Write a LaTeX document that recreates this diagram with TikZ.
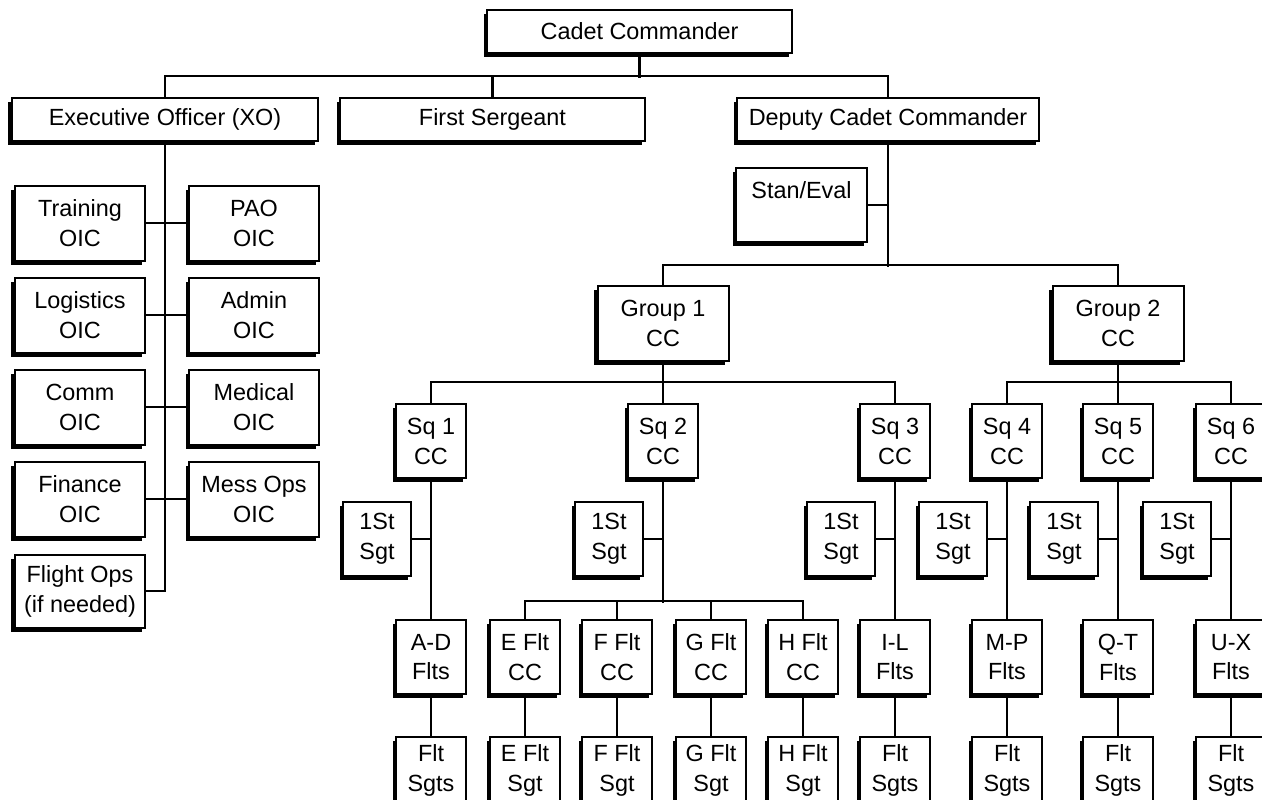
\documentclass[tikz,border=0pt]{standalone}
\usepackage{fontspec}
\setmainfont{Liberation Sans}
\usetikzlibrary{positioning,shadows}

\begin{document}
\begin{tikzpicture}[
    x=1bp, y=-1bp,
    font=\fontsize{23.5}{30}\selectfont,
    box/.style={rectangle, draw, fill=white, line width=2bp, inner sep=0pt, align=center,
        drop shadow={shadow xshift=-3.5bp, shadow yshift=-4bp, fill=black, opacity=1}},
    topbox/.style={box, minimum width=305bp, minimum height=43bp},
    oicbox/.style={box, minimum width=130bp, minimum height=75bp},
    unitbox/.style={box, minimum width=70bp, minimum height=74bp},
    sgtbox/.style={box, minimum width=68bp, minimum height=74bp},
    link/.style={line width=2.2bp}
]
    \useasboundingbox (0,0) rectangle (1262,800);

    % top of the chain
    \node[topbox] (cadet) at (639.5,31.5) {Cadet Commander};
    \node[topbox, minimum width=306bp] (xo) at (165,119.5) {Executive Officer (XO)};
    \node[topbox] (first) at (492.5,119.5) {First Sergeant};
    \node[topbox, minimum width=302bp] (deputy) at (888,119.5) {Deputy Cadet Commander};

    % XO staff
    \node[oicbox] (train) at (80,223) {Training\\OIC};
    \node[oicbox] (pao) at (254,223) {PAO\\OIC};
    \node[oicbox] (logi) at (80,315) {Logistics\\OIC};
    \node[oicbox] (admin) at (254,315) {Admin\\OIC};
    \node[oicbox] (comm) at (80,407) {Comm\\OIC};
    \node[oicbox] (medic) at (254,407) {Medical\\OIC};
    \node[oicbox] (finance) at (80,499) {Finance\\OIC};
    \node[oicbox] (mess) at (254,499) {Mess Ops\\OIC};
    \node[oicbox, minimum height=73bp] (flight) at (80,591) {Flight Ops\\(if needed)};

    % deputy side
    \node[box, minimum width=131bp, minimum height=74bp] (stan) at (801.5,205) {Stan/Eval\\\mbox{}};
    \node[box, minimum width=131bp, minimum height=75bp] (grpone) at (663,323.5) {Group 1\\CC};
    \node[box, minimum width=131bp, minimum height=75bp] (grptwo) at (1118,323.5) {Group 2\\CC};

    % squadrons
    \node[unitbox] (sqone) at (431,441) {Sq 1\\CC};
    \node[unitbox] (sqtwo) at (663,441) {Sq 2\\CC};
    \node[unitbox] (sqthree) at (895,441) {Sq 3\\CC};
    \node[unitbox] (sqfour) at (1007,441) {Sq 4\\CC};
    \node[unitbox] (sqfive) at (1118,441) {Sq 5\\CC};
    \node[unitbox] (sqsix) at (1231,441) {Sq 6\\CC};

    \node[sgtbox] (ssone) at (377,539) {1St\\Sgt};
    \node[sgtbox] (sstwo) at (609,539) {1St\\Sgt};
    \node[sgtbox] (ssthree) at (841,539) {1St\\Sgt};
    \node[sgtbox] (ssfour) at (953,539) {1St\\Sgt};
    \node[sgtbox] (ssfive) at (1064,539) {1St\\Sgt};
    \node[sgtbox] (sssix) at (1177,539) {1St\\Sgt};

    % flights
    \node[unitbox] (fltad) at (431,657) {A-D\\Flts};
    \node[unitbox] (eflt) at (525,657) {E Flt\\CC};
    \node[unitbox] (fflt) at (617,657) {F Flt\\CC};
    \node[unitbox] (gflt) at (711,657) {G Flt\\CC};
    \node[unitbox] (hflt) at (803,657) {H Flt\\CC};
    \node[unitbox] (fltil) at (895,657) {I-L\\Flts};
    \node[unitbox] (fltmp) at (1007,657) {M-P\\Flts};
    \node[unitbox] (fltqt) at (1118,657) {Q-T\\Flts};
    \node[unitbox] (fltux) at (1231,657) {U-X\\Flts};

    \node[unitbox, minimum height=66bp] (sgtsad) at (431,770) {Flt\\Sgts};
    \node[unitbox, minimum height=66bp] (sgte) at (525,770) {E Flt\\Sgt};
    \node[unitbox, minimum height=66bp] (sgtf) at (617,770) {F Flt\\Sgt};
    \node[unitbox, minimum height=66bp] (sgtg) at (711,770) {G Flt\\Sgt};
    \node[unitbox, minimum height=66bp] (sgth) at (803,770) {H Flt\\Sgt};
    \node[unitbox, minimum height=66bp] (sgtsil) at (895,770) {Flt\\Sgts};
    \node[unitbox, minimum height=66bp] (sgtsmp) at (1007,770) {Flt\\Sgts};
    \node[unitbox, minimum height=66bp] (sgtsqt) at (1118,770) {Flt\\Sgts};
    \node[unitbox, minimum height=66bp] (sgtsux) at (1231,770) {Flt\\Sgts};

    % connectors
    \draw[link] (cadet.south) -- ++(0,24.5);
    \draw[link] (xo.north) -- ++(0,-21) -| (deputy.north);
    \draw[link] (first.north) -- ++(0,-21);

    \draw[link] (flight.east) -| (xo.south);
    \draw[link] (train.east) -- (pao.west);
    \draw[link] (logi.east) -- (admin.west);
    \draw[link] (comm.east) -- (medic.west);
    \draw[link] (finance.east) -- (mess.west);

    \draw[link] (deputy.south) -- ++(0,125);
    \draw[link] (stan.east) -- (stan.east -| deputy.south);
    \draw[link] (grpone.north) -- ++(0,-20) -| (grptwo.north);

    \draw[link] (grpone.south) -- (sqtwo.north);
    \draw[link] (sqone.north) -- ++(0,-21) -| (sqthree.north);
    \draw[link] (grptwo.south) -- (sqfive.north);
    \draw[link] (sqfour.north) -- ++(0,-21) -| (sqsix.north);

    \draw[link] (ssone.east) -- (ssone.east -| sqone.south);
    \draw[link] (sstwo.east) -- (sstwo.east -| sqtwo.south);
    \draw[link] (ssthree.east) -- (ssthree.east -| sqthree.south);
    \draw[link] (ssfour.east) -- (ssfour.east -| sqfour.south);
    \draw[link] (ssfive.east) -- (ssfive.east -| sqfive.south);
    \draw[link] (sssix.east) -- (sssix.east -| sqsix.south);

    \draw[link] (sqone.south) -- (fltad.north);
    \draw[link] (sqtwo.south) -- ++(0,124);
    \draw[link] (eflt.north) -- ++(0,-18) -| (hflt.north);
    \draw[link] (fflt.north) -- ++(0,-18);
    \draw[link] (gflt.north) -- ++(0,-18);
    \draw[link] (sqthree.south) -- (fltil.north);
    \draw[link] (sqfour.south) -- (fltmp.north);
    \draw[link] (sqfive.south) -- (fltqt.north);
    \draw[link] (sqsix.south) -- (fltux.north);

    \draw[link] (fltad.south) -- (sgtsad.north);
    \draw[link] (eflt.south) -- (sgte.north);
    \draw[link] (fflt.south) -- (sgtf.north);
    \draw[link] (gflt.south) -- (sgtg.north);
    \draw[link] (hflt.south) -- (sgth.north);
    \draw[link] (fltil.south) -- (sgtsil.north);
    \draw[link] (fltmp.south) -- (sgtsmp.north);
    \draw[link] (fltqt.south) -- (sgtsqt.north);
    \draw[link] (fltux.south) -- (sgtsux.north);
\end{tikzpicture}
\end{document}
